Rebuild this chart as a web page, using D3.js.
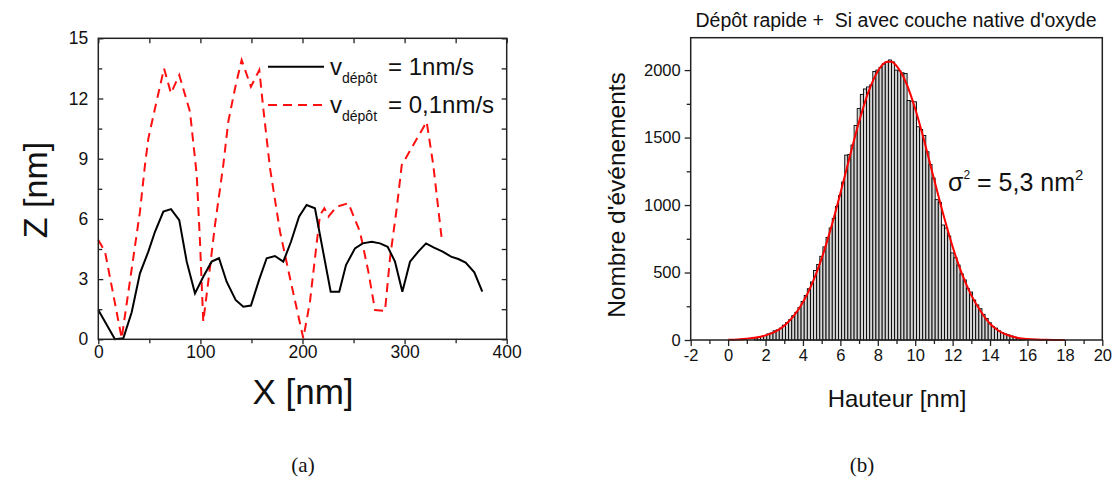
<!DOCTYPE html>
<html><head><meta charset="utf-8">
<script src="https://cdn.jsdelivr.net/npm/d3@7"></script>
<style>
body{margin:0;background:#fff}
svg text{font-family:"Liberation Sans",Arial,sans-serif;fill:#111}
</style>
</head><body>
<svg id="c" width="1113" height="480"></svg>
<script>
// ---------- Panel (a): surface profiles ----------
const profileX1 = [0,16.3,24.5,32.7,40.8,49,55.5,63.7,71.2,79.3,86.6,94.7,102.8,111,118.2,125.7,134.5,142,149.5,157.4,164.9,173,181.2,188.7,196.6,204,212.2,227.6,236,242.6,251.4,258.9,267.8,275.9,283.4,290.6,297.8,305.3,313.4,321,328.8,337.3,345.5,352.6,359.8,368.3,376.1];
const profileZ1 = [1.46,0,0.05,1.35,3.29,4.37,5.36,6.36,6.49,5.94,3.87,2.29,3.12,3.87,4.04,2.87,1.96,1.62,1.68,2.95,4.04,4.15,3.87,4.86,6.11,6.69,6.53,2.37,2.37,3.7,4.53,4.78,4.86,4.78,4.61,3.87,2.37,3.87,4.37,4.78,4.57,4.37,4.12,4.0,3.82,3.34,2.37];
const profileX2 = [0,6.6,22.9,40.8,45.7,49,55.5,64.4,71.2,79.3,89.8,96.4,99.6,102.8,107.7,114.3,122.4,127.3,133.9,140.4,149.5,157.7,161.6,168.2,178,187.8,200.8,207.3,212.2,217.1,221.4,225.4,233.5,244.9,256.3,264.5,271,280.8,285.7,292.3,297.2,308.5,321.6,328.1,336.3];
const profileZ2 = [4.95,4.37,0.05,6.36,8.68,10.0,11.5,13.5,12.26,13.17,11.34,8.19,4.86,0.88,2.87,5.7,8.68,10.84,12.5,13.92,12.59,13.42,11.5,8.52,5.36,3.04,0.05,1.87,4.04,6.19,6.53,6.11,6.61,6.78,5.36,3.37,1.46,1.41,4.04,6.53,8.68,9.68,10.84,8.68,5.03];
const aXTicks = [0,100,200,300,400];
const aXMinor = [50,150,250,350];
const aYTicks = [0,3,6,9,12,15];
const aYMinor = [1.5,4.5,7.5,10.5,13.5];

// ---------- Panel (b): height histogram ----------
const binStart = 1.4;
const binWidth = 1/6;
const binCounts = [15,20,26,33,45,52,68,75,88,110,128,150,180,205,240,285,330,380,430,515,560,620,690,760,830,900,990,1070,1170,1370,1375,1445,1590,1715,1820,1860,1875,1890,1990,2000,2020,2045,2060,2075,2060,2000,1995,1980,1975,1775,1770,1765,1580,1560,1515,1395,1300,1200,1040,1020,852,830,770,645,610,555,490,445,380,355,296,260,232,190,160,128,100,88,68,55,45,38,30,22,12,8,5];
const fitX = [0,0.5,1,1.5,2,2.5,3,3.5,4,4.5,5,5.5,6,6.5,7,7.5,8,8.5,8.75,9,9.5,10,10.5,11,11.5,12,12.5,13,13.5,14,14.5,15,15.5,16,16.5,17,18];
const fitY = [2,4,9,18,34,61,106,176,279,421,605,831,1088,1358,1617,1838,1992,2061,2062,2031,1910,1713,1466,1196,931,691,490,331,213,120,65,33,15,7,3,1,0];
const bXTicks = [-2,0,2,4,6,8,10,12,14,16,18,20];
const bXMinor = [-1,1,3,5,7,9,11,13,15,17,19];
const bYTicks = [0,500,1000,1500,2000];
const bYMinor = [250,750,1250,1750];

const svg = d3.select("#c");
const plain = d => String(d);

// ===== Panel (a) =====
const xA = d3.scaleLinear().domain([0,400]).range([98.3,506.7]);
const yA = d3.scaleLinear().domain([0,15]).range([339.3,38.3]);
const gA = svg.append("g");

function styleAxis(g, fs){
  g.select(".domain").remove();
  g.selectAll(".tick line").attr("stroke","#222").attr("stroke-width",1.3);
  g.selectAll(".tick text").style("font-size",fs+"px").attr("fill","#111");
}
gA.append("g").attr("transform",`translate(0,${yA(0)})`)
  .call(d3.axisBottom(xA).tickValues(aXTicks).tickSizeInner(5).tickSizeOuter(0).tickPadding(1).tickFormat(plain))
  .call(g=>styleAxis(g,17.5));
gA.append("g").attr("transform",`translate(0,${yA(0)})`)
  .call(d3.axisBottom(xA).tickValues(aXMinor).tickSizeInner(4).tickSizeOuter(0).tickFormat(""))
  .call(g=>styleAxis(g,17));
gA.append("g").attr("transform",`translate(0,${yA(15)})`)
  .call(d3.axisTop(xA).tickValues(aXTicks.concat(aXMinor)).tickSizeInner(-5).tickSizeOuter(0).tickFormat(""))
  .call(g=>styleAxis(g,17));
gA.append("g").attr("transform",`translate(${xA(0)},0)`)
  .call(d3.axisLeft(yA).tickValues(aYTicks).tickSizeInner(-5).tickSizeOuter(0).tickPadding(10).tickFormat(plain))
  .call(g=>styleAxis(g,17.5));
gA.append("g").attr("transform",`translate(${xA(0)},0)`)
  .call(d3.axisLeft(yA).tickValues(aYMinor).tickSizeInner(-4).tickSizeOuter(0).tickFormat(""))
  .call(g=>styleAxis(g,17));
gA.append("g").attr("transform",`translate(${xA(400)},0)`)
  .call(d3.axisRight(yA).tickValues(aYTicks.concat(aYMinor)).tickSizeInner(-5).tickSizeOuter(0).tickFormat(""))
  .call(g=>styleAxis(g,17));

const lineA = d3.line().x(d=>xA(d[0])).y(d=>yA(d[1]));
gA.append("path").datum(profileX2.map((x,i)=>[x,profileZ2[i]]))
  .attr("d",lineA).attr("fill","none").attr("stroke","#ff1010").attr("stroke-width",2)
  .attr("stroke-dasharray","9,6");
gA.append("path").datum(profileX1.map((x,i)=>[x,profileZ1[i]]))
  .attr("d",lineA).attr("fill","none").attr("stroke","#000").attr("stroke-width",2);

gA.append("rect").attr("x",xA(0)).attr("y",yA(15)).attr("width",xA(400)-xA(0)).attr("height",yA(0)-yA(15))
  .attr("fill","none").attr("stroke","#222").attr("stroke-width",1.5);

// legend
gA.append("line").attr("x1",268).attr("x2",324).attr("y1",66.7).attr("y2",66.7).attr("stroke","#000").attr("stroke-width",2);
gA.append("line").attr("x1",268).attr("x2",324).attr("y1",105).attr("y2",105).attr("stroke","#ff1010").attr("stroke-width",2).attr("stroke-dasharray","9,6");
function legendText(y, label){
  const t = gA.append("text").attr("x",330).attr("y",y).style("font-size","24px");
  t.append("tspan").text("v");
  t.append("tspan").attr("dy",8).style("font-size","14px").text("dépôt");
  t.append("tspan").attr("x",388).attr("dy",-8).text(label);
}
legendText(75,"= 1nm/s");
legendText(113,"= 0,1nm/s");

// axis titles
svg.append("text").attr("x",303).attr("y",404).attr("text-anchor","middle").style("font-size","35px").text("X [nm]");
svg.append("text").attr("transform","translate(47,190) rotate(-90)").attr("text-anchor","middle").style("font-size","34px").text("Z [nm]");

// ===== Panel (b) =====
const xB = d3.scaleLinear().domain([-2,20]).range([690.7,1102.3]);
const yB = d3.scaleLinear().domain([0,2240]).range([340,37.7]);
const gB = svg.append("g");

gB.selectAll("rect.bar").data(binCounts).enter().append("rect").attr("class","bar")
  .attr("x",(d,i)=>xB(binStart+i*binWidth))
  .attr("width",(d,i)=>xB(binStart+(i+1)*binWidth)-xB(binStart+i*binWidth))
  .attr("y",d=>yB(d)).attr("height",d=>yB(0)-yB(d))
  .attr("fill","#d4d4d4").attr("stroke","#000").attr("stroke-width",0.9);

gB.append("path").datum(fitX.map((x,i)=>[x,fitY[i]]))
  .attr("d",d3.line().x(d=>xB(d[0])).y(d=>yB(d[1])).curve(d3.curveMonotoneX))
  .attr("fill","none").attr("stroke","#ff0000").attr("stroke-width",2);

gB.append("g").attr("transform",`translate(0,${yB(0)})`)
  .call(d3.axisBottom(xB).tickValues(bXTicks).tickSizeInner(6).tickSizeOuter(0).tickPadding(3).tickFormat(plain))
  .call(g=>styleAxis(g,16.5));
gB.append("g").attr("transform",`translate(0,${yB(0)})`)
  .call(d3.axisBottom(xB).tickValues(bXMinor).tickSizeInner(4).tickSizeOuter(0).tickFormat(""))
  .call(g=>styleAxis(g,16));
gB.append("g").attr("transform",`translate(${xB(-2)},0)`)
  .call(d3.axisLeft(yB).tickValues(bYTicks).tickSizeInner(6).tickSizeOuter(0).tickPadding(4).tickFormat(plain))
  .call(g=>styleAxis(g,16.5));
gB.append("g").attr("transform",`translate(${xB(-2)},0)`)
  .call(d3.axisLeft(yB).tickValues(bYMinor).tickSizeInner(4).tickSizeOuter(0).tickFormat(""))
  .call(g=>styleAxis(g,16));

gB.append("rect").attr("x",xB(-2)).attr("y",yB(2240)).attr("width",xB(20)-xB(-2)).attr("height",yB(0)-yB(2240))
  .attr("fill","none").attr("stroke","#222").attr("stroke-width",1.5);

svg.append("text").attr("x",896).attr("y",27).attr("text-anchor","middle").style("font-size","19.5px")
  .attr("xml:space","preserve").text("Dépôt rapide +  Si avec couche native d'oxyde");
svg.append("text").attr("x",897).attr("y",407).attr("text-anchor","middle").style("font-size","24px").text("Hauteur [nm]");
svg.append("text").attr("transform","translate(625,195) rotate(-90)").attr("text-anchor","middle").style("font-size","24.5px").text("Nombre d'événements");

const sg = svg.append("text").attr("x",948).attr("y",191).style("font-size","25px");
sg.append("tspan").text("σ");
sg.append("tspan").attr("dy",-12).style("font-size","12px").text("2");
sg.append("tspan").attr("dy",12).text(" = 5,3 nm");
sg.append("tspan").attr("dy",-11).style("font-size","15px").text("2");

// captions
svg.append("text").attr("x",303).attr("y",472).attr("text-anchor","middle")
  .style("font-family","'Liberation Serif','DejaVu Serif',serif").style("font-size","21px").text("(a)");
svg.append("text").attr("x",862).attr("y",472).attr("text-anchor","middle")
  .style("font-family","'Liberation Serif','DejaVu Serif',serif").style("font-size","21px").text("(b)");
</script>
</body></html>
